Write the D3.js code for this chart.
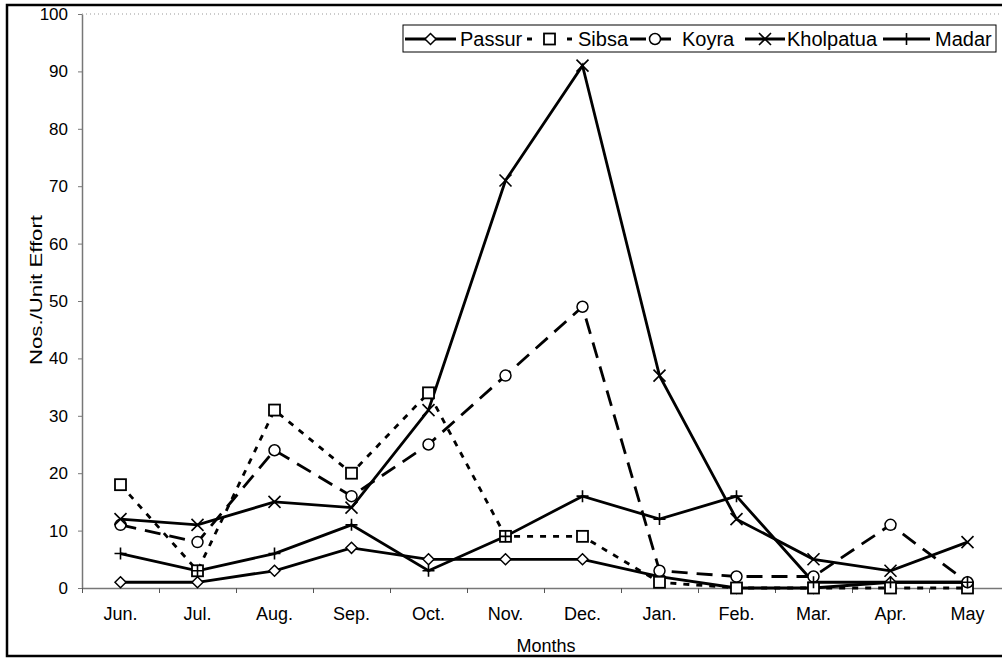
<!DOCTYPE html>
<html>
<head>
<meta charset="utf-8">
<script src="https://cdn.jsdelivr.net/npm/d3@7"></script>
<style>
  body { margin: 0; background: #fff; }
  svg { display: block; font-family: "Liberation Sans", Arial, sans-serif; }
</style>
</head>
<body>
<div id="chart"></div>
<script>
const months = ["Jun.", "Jul.", "Aug.", "Sep.", "Oct.", "Nov.", "Dec.", "Jan.", "Feb.", "Mar.", "Apr.", "May"];
const passur = [1, 1, 3, 7, 5, 5, 5, 2, 0, 0, 1, 1];
const sibsa = [18, 3, 31, 20, 34, 9, 9, 1, 0, 0, 0, 0];
const koyra = [11, 8, 24, 16, 25, 37, 49, 3, 2, 2, 11, 1];
const kholpatua = [12, 11, 15, 14, 31, 71, 91, 37, 12, 5, 3, 8];
const madar = [6, 3, 6, 11, 3, 9, 16, 12, 16, 1, 1, 1];
const yTicks = [0, 10, 20, 30, 40, 50, 60, 70, 80, 90, 100];

const series = [
    {name: "Passur", values: passur, dash: null, legendDash: null, marker: "diamond"},
    {name: "Sibsa", values: sibsa, dash: "6,7", legendDash: "5,15", marker: "square"},
    {name: "Koyra", values: koyra, dash: "16,9", legendDash: "16,9", marker: "circle"},
    {name: "Kholpatua", values: kholpatua, dash: null, legendDash: null, marker: "cross"},
    {name: "Madar", values: madar, dash: null, legendDash: null, marker: "plus"}
];

const W = 1002, H = 660;
const margin = {top: 14, left: 82, bottom: 72};
const step = 77;

const svg = d3.select("#chart").append("svg")
    .attr("width", W)
    .attr("height", H);

// outer frame
svg.append("rect")
    .attr("x", 7).attr("y", 5)
    .attr("width", 1000).attr("height", 651)
    .attr("fill", "none")
    .attr("stroke", "#000")
    .attr("stroke-width", 2.5);

const x = d3.scaleBand()
    .domain(months)
    .range([margin.left, margin.left + step * months.length]);

const xEdges = d3.scaleLinear()
    .domain([0, months.length])
    .range([margin.left, margin.left + step * months.length]);

const y = d3.scaleLinear()
    .domain([0, 100])
    .range([H - margin.bottom, margin.top]);

// faint dotted top edge of plot area
svg.append("line")
    .attr("x1", margin.left).attr("x2", W)
    .attr("y1", y(100)).attr("y2", y(100))
    .attr("stroke", "#999")
    .attr("stroke-width", 1)
    .attr("stroke-dasharray", "1,3");

// y axis
const yAxis = svg.append("g")
    .attr("transform", `translate(${margin.left},0)`)
    .call(d3.axisLeft(y).tickValues(yTicks).tickSize(4).tickSizeOuter(0));
yAxis.select(".domain").attr("stroke", "#777").attr("stroke-width", 1.5);
yAxis.selectAll(".tick line").attr("stroke", "#777");
yAxis.selectAll(".tick text")
    .attr("x", -14)
    .style("font-size", "17px")
    .attr("fill", "#000")
    .style("font-family", "Liberation Sans, Arial, sans-serif");

// x axis: boundary ticks
const xTickAxis = svg.append("g")
    .attr("transform", `translate(0,${y(0)})`)
    .call(d3.axisBottom(xEdges).ticks(12).tickSize(5).tickSizeOuter(0).tickFormat(""));
xTickAxis.select(".domain").attr("stroke", "#777").attr("stroke-width", 1.5);
xTickAxis.selectAll(".tick line").attr("stroke", "#555");

// x axis: month labels
const xLabelAxis = svg.append("g")
    .attr("transform", `translate(0,${y(0)})`)
    .call(d3.axisBottom(x).tickSize(0).tickPadding(19));
xLabelAxis.select(".domain").remove();
xLabelAxis.selectAll(".tick text")
    .style("font-size", "18px")
    .attr("fill", "#000")
    .style("font-family", "Liberation Sans, Arial, sans-serif");

// axis titles
svg.append("text")
    .attr("x", 546).attr("y", 652)
    .attr("text-anchor", "middle")
    .style("font-size", "18px")
    .text("Months");

svg.append("text")
    .attr("transform", `translate(42,${290}) rotate(-90)`)
    .attr("text-anchor", "middle")
    .style("font-size", "17px")
    .attr("textLength", 150)
    .attr("lengthAdjust", "spacingAndGlyphs")
    .text("Nos./Unit Effort");

const cx = i => x(months[i]) + x.bandwidth() / 2;

const line = d3.line()
    .x((d, i) => cx(i))
    .y(d => y(d));

function drawMarker(g, type, px, py) {
    if (type === "diamond") {
        g.append("path")
            .attr("d", `M${px},${py - 5.5}L${px + 5.5},${py}L${px},${py + 5.5}L${px - 5.5},${py}Z`)
            .attr("fill", "#fff").attr("stroke", "#000").attr("stroke-width", 1.5);
    } else if (type === "square") {
        g.append("rect")
            .attr("x", px - 5.5).attr("y", py - 5.5)
            .attr("width", 11).attr("height", 11)
            .attr("fill", "#fff").attr("stroke", "#000").attr("stroke-width", 1.8);
    } else if (type === "circle") {
        g.append("circle")
            .attr("cx", px).attr("cy", py).attr("r", 5.5)
            .attr("fill", "#fff").attr("stroke", "#000").attr("stroke-width", 1.5);
    } else if (type === "cross") {
        g.append("path")
            .attr("d", `M${px - 6},${py - 6}L${px + 6},${py + 6}M${px - 6},${py + 6}L${px + 6},${py - 6}`)
            .attr("stroke", "#000").attr("stroke-width", 1.6);
    } else if (type === "plus") {
        g.append("path")
            .attr("d", `M${px - 6},${py}L${px + 6},${py}M${px},${py - 6}L${px},${py + 6}`)
            .attr("stroke", "#000").attr("stroke-width", 1.6);
    }
}

const plot = svg.append("g");

series.forEach(s => {
    plot.append("path")
        .datum(s.values)
        .attr("fill", "none")
        .attr("stroke", "#000")
        .attr("stroke-width", 2.8)
        .attr("stroke-dasharray", s.dash)
        .attr("d", line);
});

series.forEach(s => {
    const g = plot.append("g");
    s.values.forEach((v, i) => drawMarker(g, s.marker, cx(i), y(v)));
});

// legend
const legend = svg.append("g");
legend.append("rect")
    .attr("x", 403).attr("y", 25)
    .attr("width", 593).attr("height", 27)
    .attr("fill", "#fff")
    .attr("stroke", "#000")
    .attr("stroke-width", 1);

const legendLine = [[405, 456], [527, 572], [630, 680], [745, 785], [883, 930]];
const legendText = [460, 578, 682, 787, 935];
series.forEach((s, i) => {
    const [l0, l1] = legendLine[i], ly = 39;
    const g = legend.append("g");
    g.append("line")
        .attr("x1", l0).attr("x2", l1)
        .attr("y1", ly).attr("y2", ly)
        .attr("stroke", "#000")
        .attr("stroke-width", 2.8)
        .attr("stroke-dasharray", s.legendDash);
    drawMarker(g, s.marker, (l0 + l1) / 2, ly);
    g.append("text")
        .attr("x", legendText[i]).attr("y", ly + 7)
        .style("font-size", "20px")
        .text(s.name);
});
</script>
</body>
</html>
